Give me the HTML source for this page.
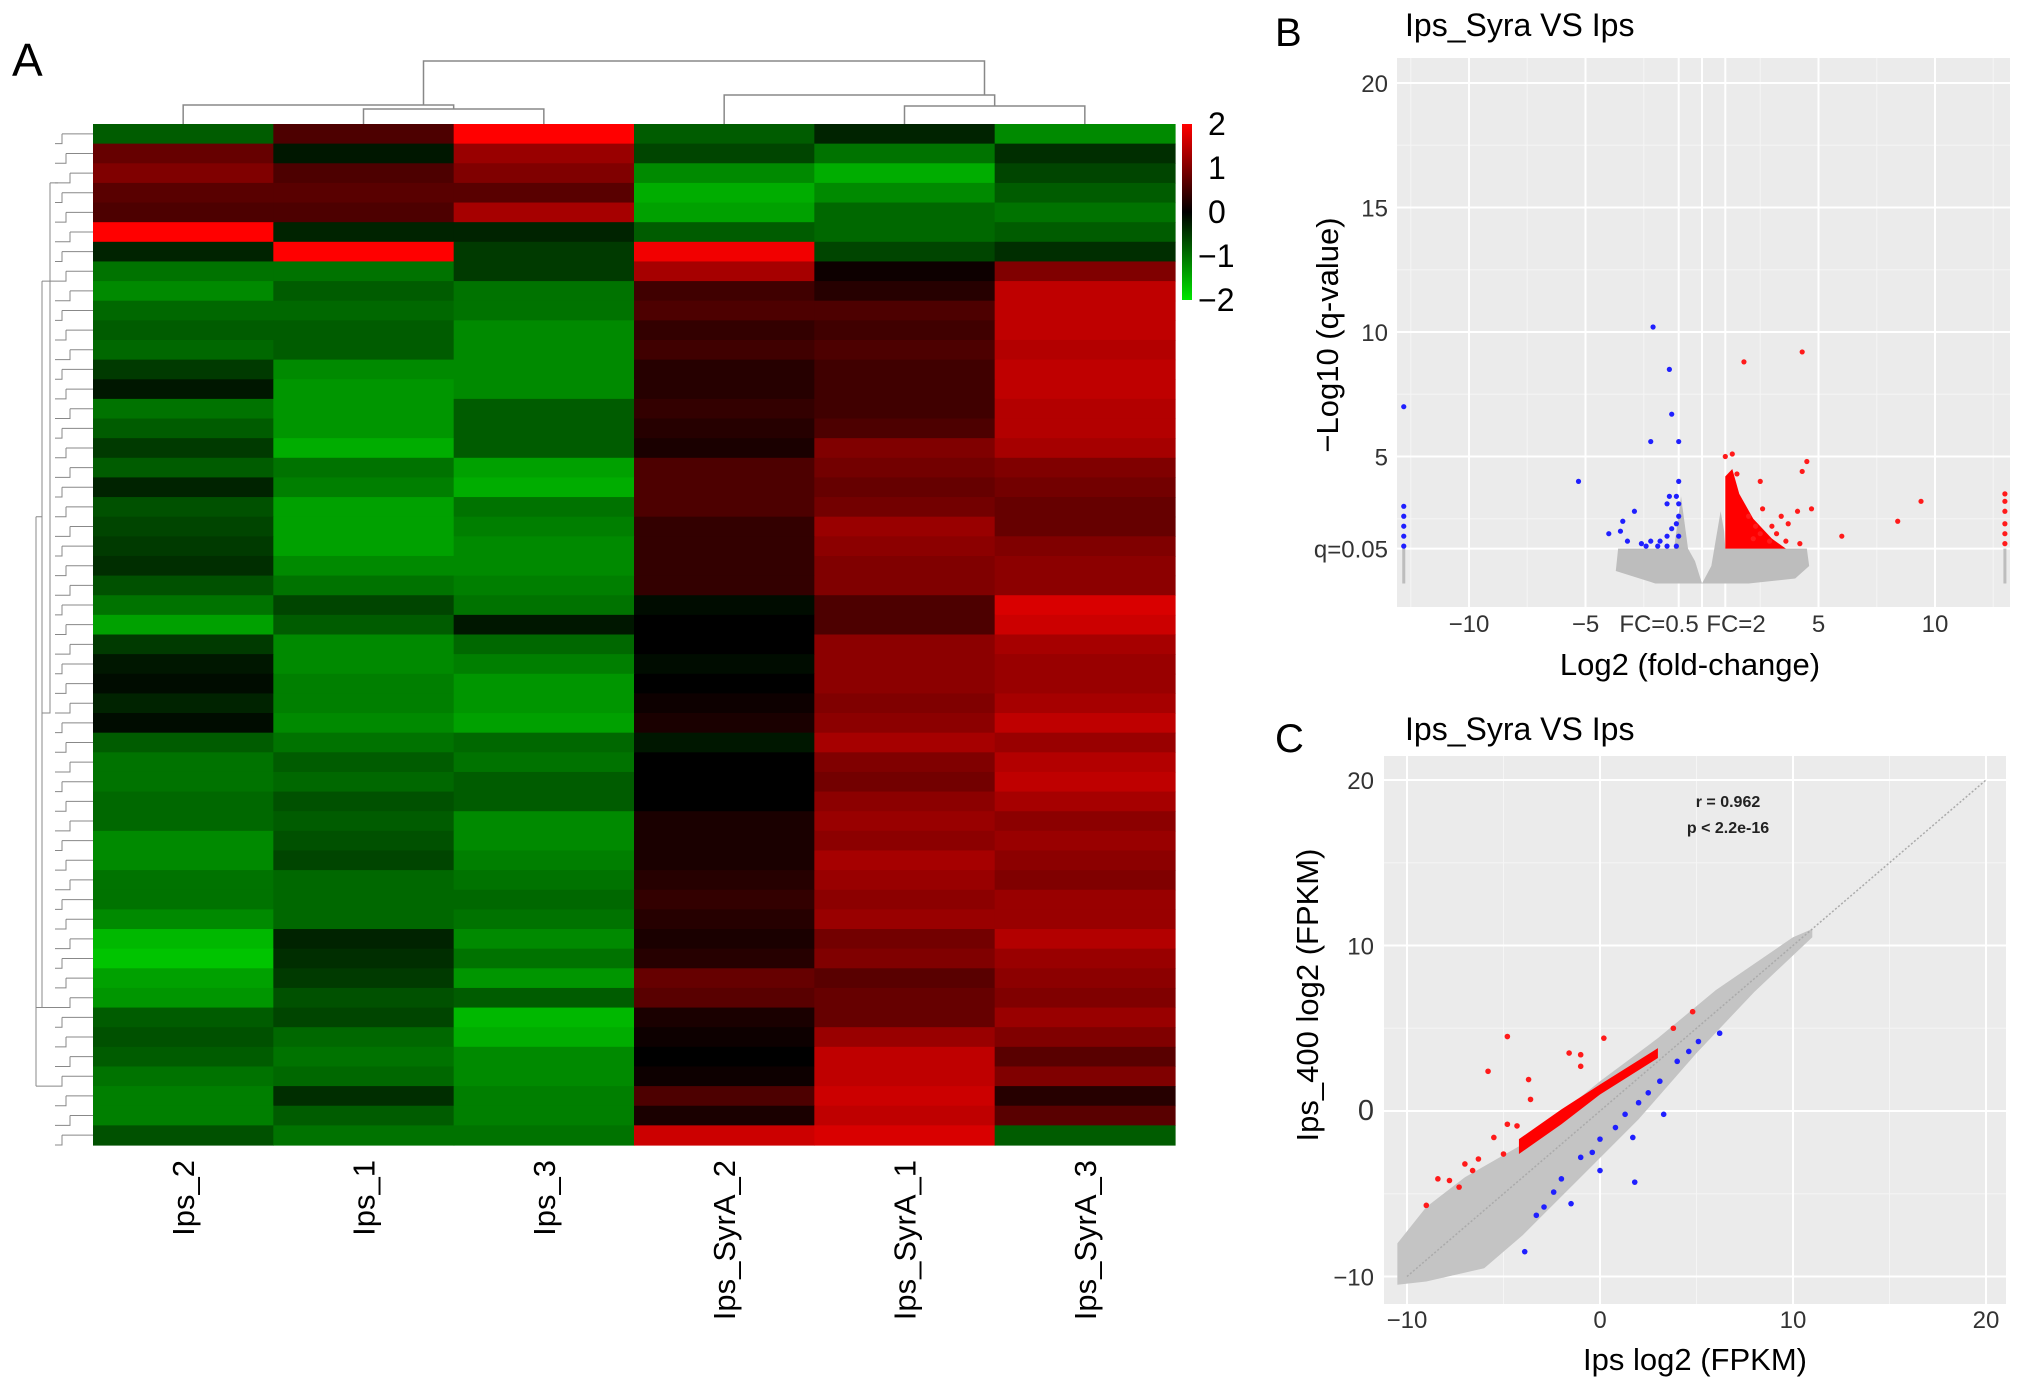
<!DOCTYPE html>
<html><head><meta charset="utf-8"><style>
body{margin:0;background:#fff;}
svg text{font-family:"Liberation Sans",Arial,sans-serif;}
</style></head><body>
<svg id="fig" width="2032" height="1390" viewBox="0 0 2032 1390" xmlns="http://www.w3.org/2000/svg">
<text x="12" y="76" font-size="46">A</text>
<text x="1275" y="46" font-size="40">B</text>
<text x="1275" y="752" font-size="40">C</text>
<g id="hm"></g><g id="vol"></g><g id="sc"></g>
</svg>
<script>
// ===== Heatmap data =====
const hmSamples=["Ips_2","Ips_1","Ips_3","Ips_SyrA_2","Ips_SyrA_1","Ips_SyrA_3"];
const hmRows=[
[-0.8,0.6,2,-0.8,-0.3,-1.2],[0.8,-0.2,1.2,-0.6,-1.0,-0.4],[1.0,0.6,1.0,-1.2,-1.5,-0.6],[0.7,0.7,0.7,-1.5,-1.2,-0.8],
[0.6,0.6,1.3,-1.4,-0.9,-1.0],[2.0,-0.3,-0.3,-0.8,-0.9,-0.8],[-0.3,2.0,-0.5,1.9,-0.6,-0.4],[-1.0,-1.0,-0.5,1.3,0.1,1.0],
[-1.2,-0.8,-1.0,0.5,0.3,1.5],[-0.9,-0.9,-1.0,0.6,0.6,1.5],[-0.8,-0.8,-1.2,0.4,0.5,1.5],[-0.9,-0.8,-1.2,0.5,0.6,1.4],
[-0.5,-1.2,-1.2,0.3,0.5,1.5],[-0.2,-1.3,-1.2,0.3,0.5,1.5],[-1.0,-1.3,-0.8,0.4,0.5,1.4],[-0.8,-1.3,-0.8,0.3,0.6,1.4],
[-0.5,-1.5,-0.8,0.2,1.0,1.3],[-0.8,-1.0,-1.4,0.6,0.9,1.0],[-0.3,-1.1,-1.5,0.6,0.8,0.9],[-0.7,-1.4,-1.0,0.6,0.9,0.8],
[-0.6,-1.4,-1.1,0.4,1.2,0.8],[-0.5,-1.4,-1.2,0.4,1.1,1.0],[-0.4,-1.2,-1.2,0.4,1.0,1.1],[-0.7,-1.0,-1.1,0.4,1.0,1.1],
[-1.0,-0.6,-1.0,-0.1,0.6,1.7],[-1.4,-0.8,-0.2,0.0,0.6,1.6],[-0.5,-1.2,-0.9,0.0,1.1,1.3],[-0.2,-1.2,-1.1,-0.1,1.1,1.2],
[-0.1,-1.1,-1.3,0.0,1.1,1.2],[-0.3,-1.1,-1.3,0.1,1.0,1.3],[-0.1,-1.2,-1.4,0.2,1.1,1.5],[-0.8,-1.0,-0.9,-0.2,1.3,1.2],
[-1.0,-0.8,-1.0,0.0,1.0,1.4],[-1.0,-0.9,-0.8,0.0,0.9,1.5],[-0.9,-0.7,-0.8,0.0,1.1,1.3],[-0.9,-0.8,-1.2,0.2,1.2,1.1],
[-1.2,-0.7,-1.2,0.2,1.1,1.2],[-1.2,-0.6,-1.1,0.2,1.3,1.1],[-1.0,-0.9,-1.0,0.3,1.2,1.0],[-1.0,-0.9,-0.9,0.4,1.1,1.2],
[-1.2,-0.9,-1.0,0.3,1.2,1.2],[-1.6,-0.3,-1.2,0.2,0.9,1.4],[-1.7,-0.4,-1.0,0.3,1.0,1.2],[-1.4,-0.5,-1.3,0.8,0.7,1.1],
[-1.3,-0.7,-0.8,0.7,0.8,1.0],[-0.8,-0.6,-1.6,0.2,0.8,1.2],[-0.7,-0.9,-1.5,0.1,1.2,1.0],[-0.8,-1.0,-1.2,0.0,1.5,0.7],
[-1.0,-0.9,-1.2,0.1,1.5,1.0],[-1.1,-0.4,-1.1,0.6,1.6,0.3],[-1.1,-0.8,-1.1,0.2,1.5,0.7],[-0.7,-1.0,-1.0,1.6,1.7,-0.8]];
const hmScaleTicks=[2,1,0,-1,-2];
// ===== Volcano data =====
const volXTicks=[-10,-5,5,10];
const volYTicks=[20,15,10,5];
const volBlueX=[-2.1,-1.4,-1.3,-2.2,-1.0,-5.3,-1.0,-1.4,-1.1,-1.5,-1.0,-2.9,-3.4,-4.0,-3.5,-3.2,-2.6,-2.2,-1.8,-1.5,-1.3,-1.1,-1.0,-1.5,-1.1,-1.9,-2.4,-1.0,-12.8,-12.8,-12.8,-12.8,-12.8,-12.8];
const volBlueY=[10.2,8.5,6.7,5.6,5.6,4.0,4.0,3.4,3.4,3.1,3.1,2.8,2.4,1.9,2.0,1.6,1.5,1.6,1.6,1.8,2.1,2.3,2.6,1.4,1.4,1.4,1.4,1.8,7.0,3.0,2.6,2.2,1.8,1.4];
const volRedX=[1.8,4.3,1.0,1.3,4.5,4.3,2.5,1.5,9.4,8.4,6.0,4.7,4.1,2.6,3.4,3.0,3.7,2.5,2.9,3.6,4.2,2.3,2.0,2.2,3.2,13,13,13,13,13,13];
const volRedY=[8.8,9.2,5.0,5.1,4.8,4.4,4.0,4.3,3.2,2.4,1.8,2.9,2.8,2.9,2.6,2.2,2.3,1.9,1.6,1.6,1.5,2.2,2.6,1.7,1.9,3.5,3.2,2.8,2.3,1.9,1.5];
const volRedDenseX=[1.0,1.0,1.3,1.6,2.2,3.0,3.6,1.0];
const volRedDenseY=[1.3,4.2,4.5,3.5,2.5,1.7,1.3,1.3];
const volGrayX=[-3.7,-3.6,-2.5,-1.2,-0.9,-0.6,-0.3,0.0,0.4,0.8,0.95,1.0,3.0,4.5,4.6,4.0,2.0,0.0,-2.0];
const volGrayY=[0.4,1.3,1.3,1.3,3.4,1.3,0.8,-0.1,0.6,2.8,2.0,1.3,1.3,1.3,0.6,0.1,-0.1,-0.1,-0.1];
// ===== Scatter data =====
const scTicks=[-10,0,10,20];
const scGrayUpX=[-10.5,-9,-7,-4,0,3,6,10,11];
const scGrayUpY=[-8,-5.8,-4,-2,1.8,4.4,7.3,10.5,11];
const scGrayLoX=[11,8,5,2,-1,-4,-6,-9,-10.5];
const scGrayLoY=[10.5,7.2,3.5,-0.5,-4,-7.5,-9.5,-10.3,-10.5];
const scRedBandX=[-4.2,-2,0,3,3,0,-2,-4.2];
const scRedBandY=[-1.7,0.1,1.6,3.8,3.2,1.0,-0.8,-2.6];
const scRedX=[-4.8,0.2,-5.8,-3.7,-1.6,-1.0,-1.0,-3.6,-4.8,-4.3,-5.5,-6.3,-7.0,-7.8,-8.4,-9.0,4.8,3.8,-6.6,-7.3,-5.0];
const scRedY=[4.5,4.4,2.4,1.9,3.5,3.4,2.7,0.7,-0.8,-0.9,-1.6,-2.9,-3.2,-4.2,-4.1,-5.7,6.0,5.0,-3.6,-4.6,-2.6];
const scBlueX=[6.2,5.1,4.6,4.0,3.1,3.3,2.5,2.0,1.3,0.8,1.7,0.0,-0.4,-1.0,0.0,1.8,-2.0,-2.4,-2.9,-3.3,-3.9,-1.5];
const scBlueY=[4.7,4.2,3.6,3.0,1.8,-0.2,1.1,0.5,-0.2,-1.0,-1.6,-1.7,-2.5,-2.8,-3.6,-4.3,-4.1,-4.9,-5.8,-6.3,-8.5,-5.6];

const NS="http://www.w3.org/2000/svg";
function mk(tag,attrs,parent,txt){const e=document.createElementNS(NS,tag);for(const k in attrs)e.setAttribute(k,attrs[k]);if(txt!==undefined)e.textContent=txt;parent.appendChild(e);return e;}
function col(v){v=Math.max(-2,Math.min(2,v));if(v>=0)return `rgb(${Math.round(v/2*255)},0,0)`;return `rgb(0,${Math.round(-v/2*230)},0)`;}

// ===== Heatmap =====
const hm=document.getElementById('hm');
const HX0=93,HX1=1175,HY0=124,HY1=1145;
const cw=(HX1-HX0)/hmSamples.length, rh=(HY1-HY0)/hmRows.length;
hmRows.forEach((row,i)=>{row.forEach((v,j)=>{
 const r=mk('rect',{x:HX0+j*cw,y:HY0+i*rh,width:cw+0.6,height:rh+0.6,fill:col(v)},hm);
 
 
});});
hmSamples.forEach((s,j)=>{
 const cx=HX0+(j+0.5)*cw;
 const t=mk('text',{x:0,y:0,'font-size':31,'text-anchor':'end',transform:`translate(${cx+11},1160) rotate(-90)`},hm,s);
 
 
});
const dg=mk('g',{stroke:'#888','stroke-width':1.5,fill:'none'},hm);


const cc=j=>HX0+(j+0.5)*cw;
function U(x1,x2,y,y1,y2){mk('path',{d:`M${x1},${y1}V${y}H${x2}V${y2}`},dg);}
U(cc(1),cc(2),109,124,124);U(cc(0),(cc(1)+cc(2))/2,105,124,109);
U(cc(4),cc(5),106,124,124);U(cc(3),(cc(4)+cc(5))/2,95,124,106);
U((cc(0)+cc(1)+cc(2))/3+60,(cc(3)+cc(4)+cc(5))/3+80,61,105,95);
const rg=mk('g',{stroke:'#888','stroke-width':1,fill:'none'},hm);


mk('path',{d:`M50,${HY0+3*rh}H58M50,${HY0+3*rh}V${HY0+30*rh}H42M42,${HY0+8*rh}V${HY0+45*rh}H36M36,${HY0+20*rh}V${HY0+49*rh}`},rg);
for(let i=0;i<hmRows.length;i++){const y=HY0+(i+0.5)*rh;mk('path',{d:`M${62+(i%3)*4},${y}H${HX0}M${62+(i%3)*4},${y}V${y+rh*0.5}H${55}`},rg);}
mk('path',{d:`M42,${HY0+8*rh}H55M36,${HY0+20*rh}H42M36,${HY0+49*rh}H55M42,${HY0+45*rh}H55`},rg);
const grad=mk('linearGradient',{id:'cg',x1:0,y1:0,x2:0,y2:1},mk('defs',{},hm));
[[0,'#ff0000'],[0.5,'#000'],[1,'#00e600']].forEach(s=>mk('stop',{offset:s[0],'stop-color':s[1]},grad));
const cb=mk('rect',{x:1182,y:124,width:10,height:176,fill:'url(#cg)'},hm);


hmScaleTicks.forEach(v=>{
 const y=124+(2-v)/4*176;
 const t=mk('text',{x:v<0?1198:1208,y:y+11,'font-size':32},hm,v<0?'\u2212'+(-v):String(v));
 
 
});

// ===== Volcano =====
const vol=document.getElementById('vol');
const VX0=1397,VX1=2010,VY0=58,VY1=607;
const vx=v=>1702+v*23.3, vy=v=>581-v*24.9;
const vbg=mk('rect',{x:VX0,y:VY0,width:VX1-VX0,height:VY1-VY0,fill:'#ebebeb'},vol);


[-12.5,-7.5,-2.5,2.5,7.5,12.5].forEach(v=>mk('line',{x1:vx(v),x2:vx(v),y1:VY0,y2:VY1,stroke:'#f5f5f5','stroke-width':1},vol));
[17.5,12.5,7.5,2.5].forEach(v=>mk('line',{x1:VX0,x2:VX1,y1:vy(v),y2:vy(v),stroke:'#f5f5f5','stroke-width':1},vol));
volXTicks.concat([0]).forEach(v=>mk('line',{x1:vx(v),x2:vx(v),y1:VY0,y2:VY1,stroke:'#fff','stroke-width':2},vol));
volYTicks.forEach(v=>mk('line',{x1:VX0,x2:VX1,y1:vy(v),y2:vy(v),stroke:'#fff','stroke-width':2},vol));
mk('line',{x1:VX0,x2:VX1,y1:vy(1.3),y2:vy(1.3),stroke:'#fff','stroke-width':2},vol);
[-1,1].forEach(v=>mk('line',{x1:vx(v),x2:vx(v),y1:VY0,y2:VY1,stroke:'#fff','stroke-width':2},vol));
const gp=mk('polygon',{points:volGrayX.map((x,i)=>vx(x)+','+vy(volGrayY[i])).join(' '),fill:'#bdbdbd'},vol);


[-12.8,13].forEach(x=>mk('rect',{x:vx(x)-1.5,y:vy(1.3),width:3,height:vy(-0.1)-vy(1.3),fill:'#bdbdbd'},vol));
const rp=mk('polygon',{points:volRedDenseX.map((x,i)=>vx(x)+','+vy(volRedDenseY[i])).join(' '),fill:'#ff0000'},vol);


volBlueX.forEach((x,i)=>{const c=mk('circle',{cx:vx(x),cy:vy(volBlueY[i]),r:2.6,fill:'#1f1fff'},vol);
 
 });
volRedX.forEach((x,i)=>{const c=mk('circle',{cx:vx(x),cy:vy(volRedY[i]),r:2.6,fill:'#ff1a1a'},vol);
 
 });
volXTicks.forEach(v=>{const t=mk('text',{x:vx(v),y:632,'font-size':24,'text-anchor':'middle',fill:'#333'},vol,v<0?'\u2212'+(-v):String(v));
 
 });
[['FC=0.5',1659],['FC=2',1736]].forEach(a=>{const t=mk('text',{x:a[1],y:632,'font-size':24,'text-anchor':'middle',fill:'#333'},vol,a[0]);
 
 });
volYTicks.forEach(v=>{const t=mk('text',{x:1388,y:vy(v)+9,'font-size':24,'text-anchor':'end',fill:'#333'},vol,String(v));
 
 });
let q=mk('text',{x:1388,y:vy(1.3)+9,'font-size':24,'text-anchor':'end',fill:'#333'},vol,'q=0.05');


let t1=mk('text',{x:1405,y:36,'font-size':32},vol,'Ips_Syra VS Ips');


let t2=mk('text',{x:1690,y:675,'font-size':31,'text-anchor':'middle'},vol,'Log2 (fold-change)');


let t3=mk('text',{x:0,y:0,'font-size':31,'text-anchor':'middle',transform:'translate(1338,335) rotate(-90)'},vol,'\u2212Log10 (q-value)');



// ===== Scatter =====
const sc=document.getElementById('sc');
const SX0=1384,SX1=2006,SY0=756,SY1=1304;
const sx=v=>1600+v*19.3, sy=v=>1111-v*16.55;
const sbg=mk('rect',{x:SX0,y:SY0,width:SX1-SX0,height:SY1-SY0,fill:'#ebebeb'},sc);


[-5,5,15].forEach(v=>{mk('line',{x1:sx(v),x2:sx(v),y1:SY0,y2:SY1,stroke:'#f5f5f5'},sc);mk('line',{x1:SX0,x2:SX1,y1:sy(v),y2:sy(v),stroke:'#f5f5f5'},sc);});
scTicks.forEach(v=>{mk('line',{x1:sx(v),x2:sx(v),y1:SY0,y2:SY1,stroke:'#fff','stroke-width':2},sc);mk('line',{x1:SX0,x2:SX1,y1:sy(v),y2:sy(v),stroke:'#fff','stroke-width':2},sc);});
const gpts=scGrayUpX.map((x,i)=>sx(x)+','+sy(scGrayUpY[i])).concat(scGrayLoX.map((x,i)=>sx(x)+','+sy(scGrayLoY[i])));
const sg=mk('polygon',{points:gpts.join(' '),fill:'#c4c4c4'},sc);


const dl=mk('line',{x1:sx(-10),y1:sy(-10),x2:sx(20),y2:sy(20),stroke:'#aaa','stroke-width':1.5,'stroke-dasharray':'2,2'},sc);


const rb=mk('polygon',{points:scRedBandX.map((x,i)=>sx(x)+','+sy(scRedBandY[i])).join(' '),fill:'#ff0000'},sc);


scRedX.forEach((x,i)=>{const c=mk('circle',{cx:sx(x),cy:sy(scRedY[i]),r:2.8,fill:'#ff1a1a'},sc);
 
 });
scBlueX.forEach((x,i)=>{const c=mk('circle',{cx:sx(x),cy:sy(scBlueY[i]),r:2.8,fill:'#1f1fff'},sc);
 
 });
scTicks.forEach(v=>{
 const a=mk('text',{x:sx(v),y:1328,'font-size':24,'text-anchor':'middle',fill:'#333'},sc,v<0?'\u2212'+(-v):String(v));
 
 
 const b=mk('text',{x:1374,y:sy(v)+9,'font-size':v===0?29:24,'text-anchor':'end',fill:'#333'},sc,v<0?'\u2212'+(-v):String(v));
 
 
});
let s1=mk('text',{x:1405,y:740,'font-size':32},sc,'Ips_Syra VS Ips');


let s2=mk('text',{x:1695,y:1370,'font-size':31,'text-anchor':'middle'},sc,'Ips log2 (FPKM)');


let s3=mk('text',{x:0,y:0,'font-size':31,'text-anchor':'middle',transform:'translate(1318,995) rotate(-90)'},sc,'Ips_400  log2 (FPKM)');


let s4=mk('text',{x:1728,y:807,'font-size':16,'font-weight':'bold','text-anchor':'middle',fill:'#222'},sc,'r =  0.962');


let s5=mk('text',{x:1728,y:833,'font-size':16,'font-weight':'bold','text-anchor':'middle',fill:'#222'},sc,'p < 2.2e-16');


</script>
</body></html>
